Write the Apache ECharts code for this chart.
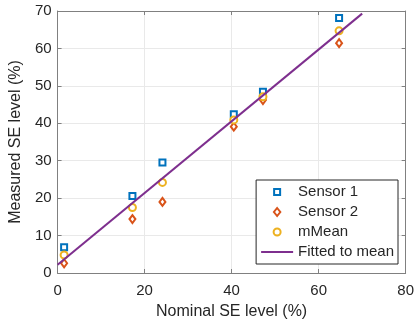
<!DOCTYPE html>
<html>
<head>
<meta charset="utf-8">
<script src="https://cdn.jsdelivr.net/npm/echarts@6/dist/echarts.min.js"></script>
<style>html,body{margin:0;padding:0;background:#fff;}#c{width:417px;height:331px;}</style>
</head>
<body>
<div id="c"></div>
<script>
const nominal = [1.5, 17.2, 24.1, 40.5, 47.2, 64.7];
const sensor1 = [6.9, 20.6, 29.5, 42.4, 48.4, 68.1];
const sensor2 = [2.6, 14.4, 19.0, 39.1, 46.2, 61.4];
const mMean = [4.8, 17.5, 24.2, 40.9, 47.1, 64.7];
const fitX = [0, 70];
const fitY = [2.2, 69.3];
const xTicks = [0, 20, 40, 60, 80];
const yTicks = [0, 10, 20, 30, 40, 50, 60, 70];
const legendNames = ['Sensor 1', 'Sensor 2', 'mMean', 'Fitted to mean'];

const pair = (xs, ys) => xs.map((x, i) => [x, ys[i]]);
const axisColor = '#808080';
const txt = '#262626';
const font = 'Liberation Sans, Arial, sans-serif';

const icons = [
  'path://M0,0M32,8M13,1h6v6h-6z',
  'path://M0,0M32,8M16,-0.5L19.2,4L16,8.5L12.8,4z',
  'path://M0,0M32,8M19.5,4A3.5,3.5,0,1,1,12.5,4A3.5,3.5,0,1,1,19.5,4z',
  'path://M0,0M32,8M0,3h32v2h-32z'
];

const chart = echarts.init(document.getElementById('c'), null, {renderer: 'canvas'});
const baseX = {
  type: 'value', min: xTicks[0], max: xTicks[xTicks.length - 1], interval: 20
};
const baseY = {
  type: 'value', min: yTicks[0], max: yTicks[yTicks.length - 1], interval: 10
};
chart.setOption({
  animation: false,
  backgroundColor: '#fff',
  grid: {left: 55, right: 11, top: 11, bottom: 58},
  xAxis: [
    Object.assign({}, baseX, {
      position: 'bottom',
      name: 'Nominal SE level (%)', nameLocation: 'middle', nameGap: 31,
      nameTextStyle: {fontSize: 16, color: txt, fontFamily: font},
      axisLine: {show: true, lineStyle: {color: axisColor, width: 1}},
      axisTick: {show: true, inside: true, length: 4, lineStyle: {color: axisColor}},
      axisLabel: {fontSize: 15, color: txt, fontFamily: font, margin: 10},
      splitLine: {show: true, lineStyle: {color: '#e9e9e9', width: 1}}
    }),
    Object.assign({}, baseX, {
      position: 'top',
      axisLine: {show: true, onZero: false, lineStyle: {color: axisColor, width: 1}},
      axisTick: {show: true, inside: true, length: 4, lineStyle: {color: axisColor}},
      axisLabel: {show: false},
      splitLine: {show: false}
    })
  ],
  yAxis: [
    Object.assign({}, baseY, {
      position: 'left',
      name: 'Measured SE level (%)', nameLocation: 'middle', nameGap: 32,
      nameTextStyle: {fontSize: 16, color: txt, fontFamily: font},
      axisLine: {show: true, lineStyle: {color: axisColor, width: 1}},
      axisTick: {show: true, inside: true, length: 4, lineStyle: {color: axisColor}},
      axisLabel: {fontSize: 15, color: txt, fontFamily: font, margin: 6},
      splitLine: {show: true, lineStyle: {color: '#e9e9e9', width: 1}}
    }),
    Object.assign({}, baseY, {
      position: 'right',
      axisLine: {show: true, onZero: false, lineStyle: {color: axisColor, width: 1}},
      axisTick: {show: true, inside: true, length: 4, lineStyle: {color: axisColor}},
      axisLabel: {show: false},
      splitLine: {show: false}
    })
  ],
  legend: {
    orient: 'vertical',
    right: 19, top: 180,
    backgroundColor: '#fff',
    borderColor: '#262626', borderWidth: 1,
    padding: [2, 4, 2, 4],
    itemWidth: 32, itemHeight: 8, itemGap: 0,
    symbolKeepAspect: false,
    textStyle: {fontSize: 15, color: txt, fontFamily: font, lineHeight: 20},
    data: legendNames.map((n, i) => ({name: n, icon: icons[i]}))
  },
  series: [
    {
      name: legendNames[0], type: 'scatter', symbol: 'rect', symbolSize: 6,
      itemStyle: {color: '#fff', borderColor: '#0072BD', borderWidth: 2, opacity: 1},
      data: pair(nominal, sensor1), z: 3
    },
    {
      name: legendNames[1], type: 'scatter', symbol: 'diamond', symbolSize: [6, 8],
      itemStyle: {color: '#fff', borderColor: '#D95319', borderWidth: 2, opacity: 1},
      data: pair(nominal, sensor2), z: 3
    },
    {
      name: legendNames[2], type: 'scatter', symbol: 'circle', symbolSize: 7,
      itemStyle: {color: '#fff', borderColor: '#EDB120', borderWidth: 2, opacity: 1},
      data: pair(nominal, mMean), z: 3
    },
    {
      name: legendNames[3], type: 'line', symbol: 'none',
      lineStyle: {color: '#7E2F8E', width: 2},
      itemStyle: {color: '#7E2F8E'},
      data: pair(fitX, fitY), z: 4
    }
  ]
});
</script>
</body>
</html>
